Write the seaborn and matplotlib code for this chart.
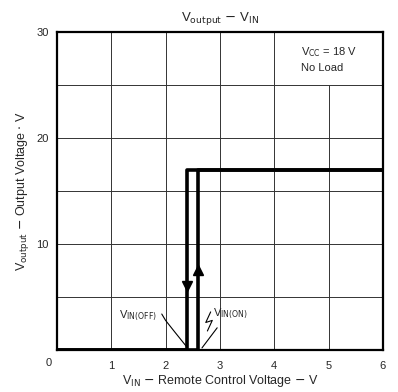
import matplotlib
matplotlib.use("Agg")
import matplotlib.pyplot as plt
import seaborn as sns
import pandas as pd

sns.set_theme(style="white")
plt.rcParams["font.family"] = ["Liberation Sans", "DejaVu Sans"]

# Hysteresis of the output voltage against the remote control voltage
v_on = 2.6
v_off = 2.4
v_out_high = 17.0
rise_vin = [0.0, v_on, v_on, 6.0]
rise_vout = [0.0, 0.0, v_out_high, v_out_high]
fall_vin = [6.0, v_off, v_off, 0.0]
fall_vout = [v_out_high, v_out_high, 0.0, 0.0]

x_ticks = [1, 2, 3, 4, 5, 6]
y_ticks = [10, 20, 30]

df = pd.concat([
    pd.DataFrame({"vin": rise_vin, "vout": rise_vout, "path": "rise"}),
    pd.DataFrame({"vin": fall_vin, "vout": fall_vout, "path": "fall"}),
])

fig = plt.figure(figsize=(3.98, 3.92), dpi=100)
ax = fig.add_axes([0.143, 0.107, 0.819, 0.811])

# grid; the cell holding the condition note is left open
for x in range(1, 5):
    ax.axvline(x, color="#333333", lw=0.7, zorder=1)
ax.vlines(5, 0, 25, color="#333333", lw=0.7, zorder=1)
for y in range(5, 30, 5):
    ax.axhline(y, color="#333333", lw=0.7, zorder=1)

sns.lineplot(data=df, x="vin", y="vout", units="path", estimator=None, sort=False,
             color="black", lw=2.6, ax=ax, zorder=3)

# direction arrowheads on the two vertical edges
ax.plot([v_off], [6.0], marker="v", color="black", markersize=6.5, zorder=4)
ax.plot([v_on], [7.6], marker="^", color="black", markersize=6.5, zorder=4)

ax.set_xlim(0, 6)
ax.set_ylim(0, 30)
ax.set_xticks(x_ticks)
ax.set_yticks(y_ticks)
ax.tick_params(labelsize=8, length=0, pad=8)
ax.tick_params(axis="y", pad=6)
for s in ax.spines.values():
    s.set_color("black")
    s.set_linewidth(1.6)

ax.text(-0.1, -1.2, "0", fontsize=8, ha="right", va="center", transform=ax.transData)

ax.set_xlabel("V$_{\\rm IN}$ $-$ Remote Control Voltage $-$ V", fontsize=9, labelpad=1)
ax.set_ylabel("V$_{\\rm output}$ $-$ Output Voltage $\\cdot$ V", fontsize=9, labelpad=4)
ax.set_title("V$_{\\rm output}$ $-$ V$_{\\rm IN}$", fontsize=9.5, pad=8)

ax.text(4.5, 28.1, "V$_{\\rm CC}$ = 18 V", fontsize=8, ha="left", va="center")
ax.text(4.5, 26.6, "No Load", fontsize=8, ha="left", va="center")

# threshold call-outs
ax.text(1.5, 3.2, "V$_{\\rm IN(OFF)}$", fontsize=8, ha="center", va="center")
ax.plot([1.93, 2.0, 2.17, 2.39], [3.4, 2.8, 1.7, 0.3], color="black", lw=0.8, zorder=3)
ax.text(3.2, 3.4, "V$_{\\rm IN(ON)}$", fontsize=8, ha="center", va="center")
ax.plot([2.95, 2.67], [2.1, 0.2], color="black", lw=0.8, zorder=3)
ax.plot([2.83, 2.74, 2.86, 2.77], [3.6, 2.6, 2.8, 1.8], color="black", lw=0.8, zorder=3)

fig.savefig("out.png", dpi=100, facecolor="white")
